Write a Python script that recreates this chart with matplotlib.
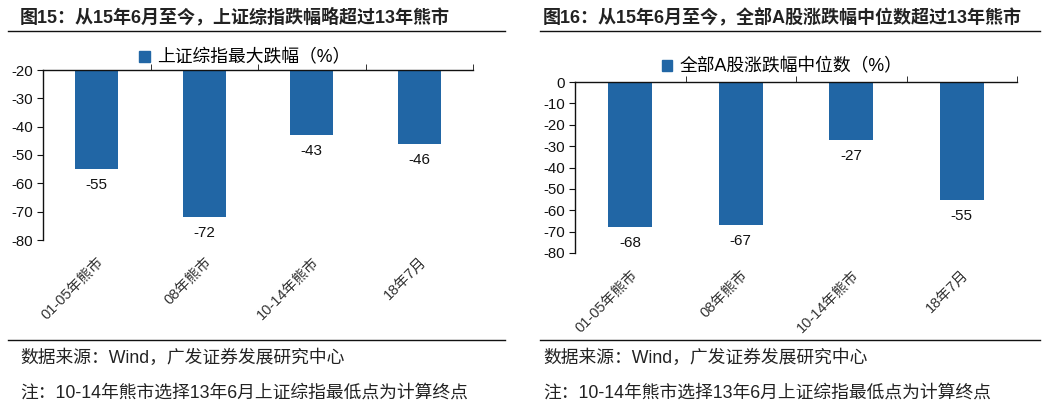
import matplotlib
matplotlib.use("Agg")
import matplotlib.pyplot as plt
from matplotlib.lines import Line2D
from matplotlib.patches import Patch

categories = ["01-05年熊市", "08年熊市", "10-14年熊市", "18年7月"]
left_values = [-55, -72, -43, -46]
right_values = [-68, -67, -27, -55]
left_yticks = [-20, -30, -40, -50, -60, -70, -80]
right_yticks = [0, -10, -20, -30, -40, -50, -60, -70, -80]

left_title = "图15：从15年6月至今，上证综指跌幅略超过13年熊市"
right_title = "图16：从15年6月至今，全部A股涨跌幅中位数超过13年熊市"
left_legend = "上证综指最大跌幅（%）"
right_legend = "全部A股涨跌幅中位数（%）"
source_text = "数据来源：Wind，广发证券发展研究中心"
note_text = "注：10-14年熊市选择13年6月上证综指最低点为计算终点"

FAM = ["Liberation Sans", "Noto Sans CJK SC", "DejaVu Sans"]
plt.rcParams["font.family"] = FAM

BAR = "#2166a5"
W, H = 1057, 413
fig = plt.figure(figsize=(W / 100, H / 100), dpi=100)


def px_axes(x0, y0, x1, y1):
    return fig.add_axes([x0 / W, 1 - y1 / H, (x1 - x0) / W, (y1 - y0) / H])


def draw_panel(ax, values, yticks, ylim, legend_txt, legend_xy):
    xs = list(range(len(categories)))
    ax.bar(xs, values, width=0.4, color=BAR, zorder=2)
    ax.set_xlim(-0.5, len(categories) - 0.5)
    ax.set_ylim(*ylim)
    ax.set_yticks(yticks)
    ax.set_yticklabels([str(t) for t in yticks], fontsize=10.8, color="#111111",
                       family=FAM)
    ax.set_xticks(xs)
    ax.set_xticklabels(categories, rotation=45, ha="right",
                       rotation_mode="anchor", fontsize=10.5, color="#333333",
                       family=["Liberation Sans", "Noto Sans CJK SC"])
    ax.set_xticks([i + 0.5 for i in xs], minor=True)
    ax.tick_params(axis="x", which="major", bottom=False, top=False, pad=7)
    ax.tick_params(axis="x", which="minor", bottom=False, top=True,
                   direction="out", length=4, color="#111111")
    ax.tick_params(axis="y", direction="out", length=4, color="#111111", pad=3)
    for s in ["right", "bottom"]:
        ax.spines[s].set_visible(False)
    for s in ["left", "top"]:
        ax.spines[s].set_color("#111111")
        ax.spines[s].set_linewidth(1.0)
    for x, v in zip(xs, values):
        ax.annotate(str(v), (x, v), xytext=(0, -11.5), textcoords="offset points",
                    ha="center", va="center", fontsize=11, color="#111111",
                    annotation_clip=False)
    h = Patch(facecolor=BAR, edgecolor=BAR)
    fig.legend([h], [legend_txt], loc="center", frameon=False,
               bbox_to_anchor=(legend_xy[0] / W, 1 - legend_xy[1] / H),
               handlelength=0.6, handleheight=0.6, handletextpad=0.4,
               prop={"family": ["Liberation Sans", "Noto Sans CJK SC"], "size": 12.8})


axL = px_axes(43, 70, 473, 240)
draw_panel(axL, left_values, left_yticks, (-80, -20), left_legend, (245, 58))
axR = px_axes(575, 82, 1017, 253)
draw_panel(axR, right_values, right_yticks, (-80, 0), right_legend, (782, 67))

# titles, rules and footers
for x0, x1, tx, title in [(8, 505, 20, left_title), (540, 1040, 543, right_title)]:
    fig.text(tx / W, 1 - 17 / H, title, fontsize=13.0, fontweight="bold",
             color="#222222", ha="left", va="center",
             family=["Liberation Sans", "Noto Sans CJK SC"])
    for yy in (31, 340):
        fig.add_artist(Line2D([x0 / W, x1 / W], [1 - yy / H, 1 - yy / H],
                              color="#111111", lw=1.0))
    fig.text((tx + 0) / W, 1 - 358 / H, source_text, fontsize=12.8, color="#222222",
             ha="left", va="center", family=["Liberation Sans", "Noto Sans CJK SC"])
    fig.text((tx + 0) / W, 1 - 393 / H, note_text, fontsize=12.8, color="#222222",
             ha="left", va="center", family=["Liberation Sans", "Noto Sans CJK SC"])

fig.savefig("out.png", dpi=100, facecolor="white")
